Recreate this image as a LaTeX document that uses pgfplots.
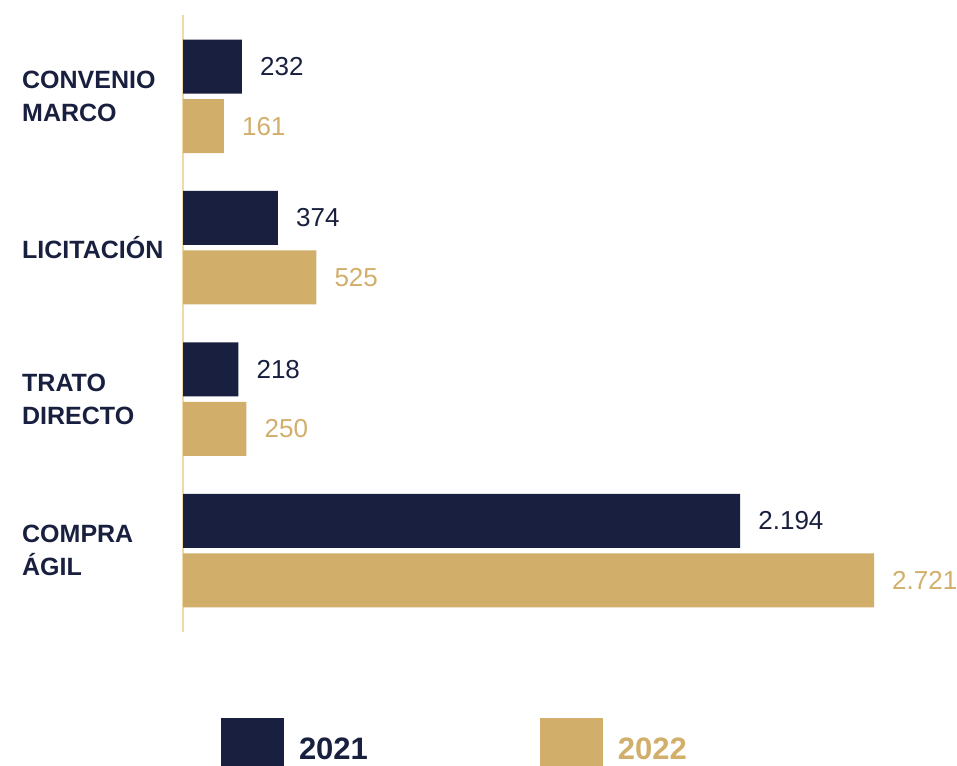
\documentclass[border=0pt]{standalone}
\usepackage{fontspec}
\setmainfont{Liberation Sans}
\usepackage{pgfplots}
\pgfplotsset{compat=1.18}
\definecolor{navy}{HTML}{19203F}
\definecolor{gold}{HTML}{D2AE6B}
\definecolor{axline}{HTML}{F0D9A8}
\begin{document}
\begin{tikzpicture}
\path[use as bounding box] (0,0) rectangle (957bp,766bp);
\begin{axis}[
  at={(183bp,134bp)}, anchor=south west,
  scale only axis, width=691bp, height=617bp,
  xmin=0, xmax=2721, ymin=-0.538, ymax=3.537,
  axis x line=none, axis y line*=left,
  y axis line style={draw=axline, line width=2bp},
  ytick={0,1,2,3},
  yticklabels={{COMPRA\\ÁGIL},{TRATO\\DIRECTO},{LICITACIÓN},{CONVENIO\\MARCO}},
  major tick length=0pt,
  yticklabel style={anchor=west, align=left, inner sep=0pt, xshift=-161bp, text=navy, font=\bfseries\fontsize{25bp}{33bp}\selectfont},
  xbar, bar width=54bp,
  clip=false,
  point meta=explicit symbolic,
  nodes near coords,
  every node near coord/.append style={anchor=west, inner sep=0pt, xshift=18bp, font=\fontsize{26bp}{30bp}\selectfont},
  legend image code/.code={\fill[#1] (0bp,-31.5bp) rectangle (63bp,31.5bp);},
  legend columns=2,
  legend style={draw=none, fill=none, inner sep=0pt, outer sep=0pt, at={(0.055,-0.139)}, anchor=north west, font=\bfseries\fontsize{31bp}{36bp}\selectfont, nodes={inner sep=0pt}, /tikz/every odd column/.append style={column sep=15bp}, /tikz/every even column/.append style={column sep=172bp}},
]
\addplot[fill=navy, draw=none, bar shift=29.75bp, every node near coord/.append style={text=navy}] coordinates {(2194,0)[2.194] (218,1)[218] (374,2)[374] (232,3)[232]};
\addplot[fill=gold, draw=none, bar shift=-29.75bp, every node near coord/.append style={text=gold}] coordinates {(2721,0)[2.721] (250,1)[250] (525,2)[525] (161,3)[161]};
\legend{\textcolor{navy}{2021},\textcolor{gold}{2022}}
\end{axis}
\end{tikzpicture}
\end{document}
